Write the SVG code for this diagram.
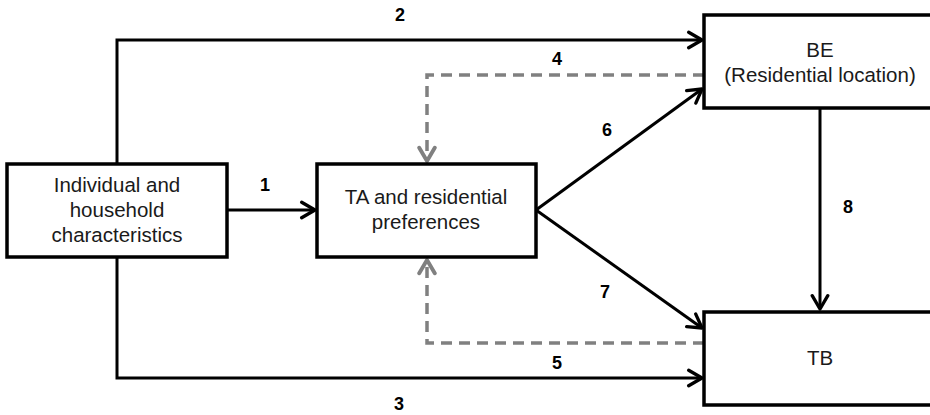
<svg xmlns="http://www.w3.org/2000/svg" width="930" height="415" viewBox="0 0 930 415">
<style>
.box{fill:#fff;stroke:#000;stroke-width:3.5}
.t{font-family:"Liberation Sans",Arial,sans-serif;font-size:20.5px;fill:#1a1a1a;text-anchor:middle}
.n{font-family:"Liberation Sans",Arial,sans-serif;font-size:18px;font-weight:bold;fill:#000;text-anchor:middle}
.c{fill:none;stroke:#000;stroke-width:3}
.d{fill:none;stroke:#808080;stroke-width:3.5;stroke-dasharray:11 7}
</style>
<defs>
<marker id="ab" markerUnits="userSpaceOnUse" markerWidth="20" markerHeight="20" viewBox="-14 -9 16 18" refX="0" refY="0" orient="auto">
<path d="M-12,-7 L0,0 L-12,7" fill="none" stroke="#000" stroke-width="3" stroke-linecap="round" stroke-linejoin="round"/>
</marker>
<marker id="ag" markerUnits="userSpaceOnUse" markerWidth="20" markerHeight="20" viewBox="-14 -9 16 18" refX="0" refY="0" orient="auto">
<path d="M-12,-7 L0,0 L-12,7" fill="none" stroke="#808080" stroke-width="3.5" stroke-linecap="round" stroke-linejoin="round"/>
</marker>
</defs>
<g id="connectors">
<path class="c" d="M227,210 L315,210" marker-end="url(#ab)"/>
<path class="c" d="M117,164 L117,40 L702,40" marker-end="url(#ab)"/>
<path class="c" d="M117,257 L117,378 L702,378" marker-end="url(#ab)"/>
<path class="d" d="M704,75 L427,75 L427,161" marker-end="url(#ag)"/>
<path class="d" d="M704,343 L427,343 L427,260" marker-end="url(#ag)"/>
<path class="c" d="M536,210 L702,89" marker-end="url(#ab)"/>
<path class="c" d="M536,210 L702,328" marker-end="url(#ab)"/>
<path class="c" d="M820,108 L820,309" marker-end="url(#ab)"/>
<text class="n" x="265" y="191">1</text>
<text class="n" x="400" y="21">2</text>
<text class="n" x="399" y="410">3</text>
<text class="n" x="557" y="65">4</text>
<text class="n" x="557" y="369">5</text>
<text class="n" x="607" y="136">6</text>
<text class="n" x="605" y="298">7</text>
<text class="n" x="848" y="213">8</text>
</g>
<g id="individual">
<rect class="box" x="7" y="164" width="220" height="93"/>
<text class="t" x="117" y="192">Individual and</text>
<text class="t" x="117" y="217">household</text>
<text class="t" x="117" y="242">characteristics</text>
</g>
<g id="ta">
<rect class="box" x="317" y="164" width="219" height="93"/>
<text class="t" x="426" y="204">TA and residential</text>
<text class="t" x="426" y="229">preferences</text>
</g>
<g id="be">
<rect class="box" x="704" y="15" width="240" height="93"/>
<text class="t" x="820" y="57">BE</text>
<text class="t" x="820" y="82">(Residential location)</text>
</g>
<g id="tb">
<rect class="box" x="704" y="312" width="240" height="93"/>
<text class="t" x="820" y="365">TB</text>
</g>
</svg>
